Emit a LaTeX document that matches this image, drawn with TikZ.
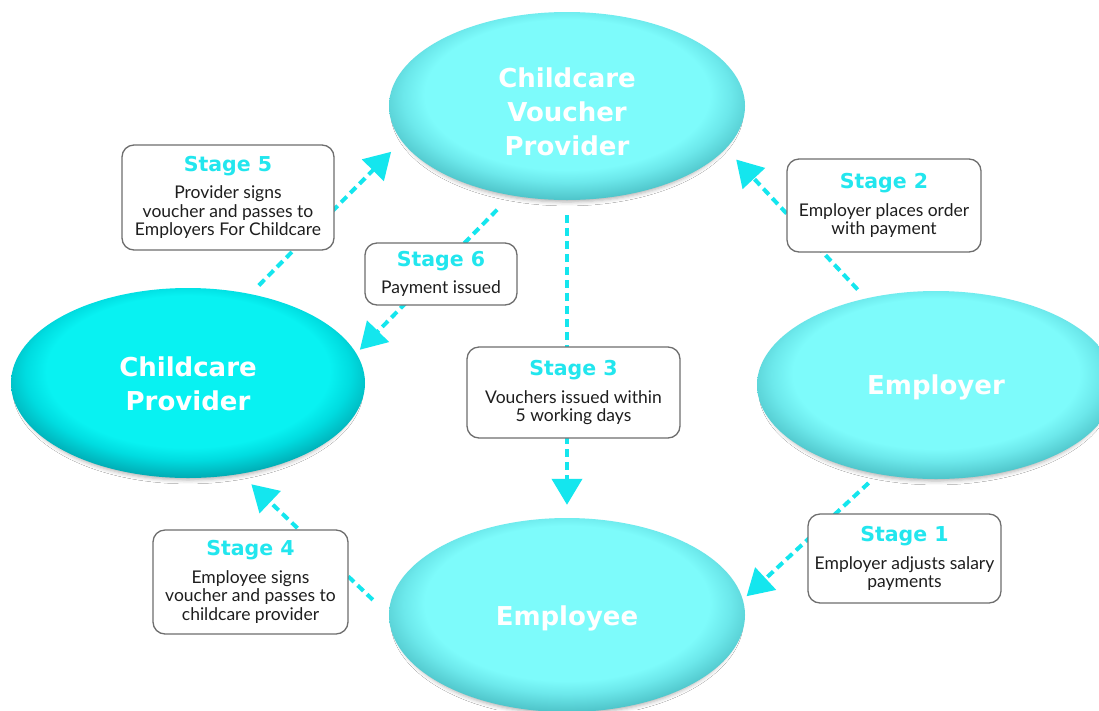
\documentclass[tikz,border=0pt]{standalone}
\usepackage{fontspec}
\setmainfont{Lato}
\newfontfamily\headfont{DejaVu Sans}
\usetikzlibrary{shapes.geometric,arrows.meta,shadows.blur}
\definecolor{arrowc}{HTML}{14E6EE}
\definecolor{titlec}{HTML}{22E6EE}
\definecolor{bodyc}{HTML}{1E1E1E}
\definecolor{boxc}{HTML}{6E6E6E}
\definecolor{baseL}{HTML}{7DFBFB}
\definecolor{midL}{HTML}{6CE8EB}
\definecolor{rimL}{HTML}{50C6CB}
\definecolor{baseB}{HTML}{08F2F2}
\definecolor{midB}{HTML}{00DCE0}
\definecolor{rimB}{HTML}{00AEB6}
\pgfdeclareradialshading{bubL}{\pgfpoint{0bp}{5bp}}{color(0bp)=(baseL); color(20bp)=(baseL); color(23bp)=(midL); color(27bp)=(rimL); color(50bp)=(rimL)}
\pgfdeclareradialshading{bubB}{\pgfpoint{0bp}{5bp}}{color(0bp)=(baseB); color(20bp)=(baseB); color(23bp)=(midB); color(27bp)=(rimB); color(50bp)=(rimB)}
\newcommand\stg[1]{{\headfont\fontsize{20.5}{24}\selectfont\bfseries\color{titlec}#1}}
\begin{document}
\begin{tikzpicture}[x=1pt,y=-1pt,
  flow/.style={draw=arrowc, line width=4pt, dash pattern=on 8pt off 5pt, -{Triangle[length=26pt,width=30pt]}},
  bub/.style={ellipse, inner sep=0pt, draw=none, shade,
    blur shadow={shadow xshift=0pt, shadow yshift=-5pt, shadow scale=0.97, shadow blur radius=4pt, shadow opacity=30}},
  bubL/.style={bub, shading=bubL},
  bubB/.style={bub, shading=bubB},
  btext/.style={text=white, align=center, inner sep=0pt, font=\headfont\fontsize{26}{34}\selectfont\bfseries},
  stagebox/.style={rectangle, rounded corners=12pt, draw=boxc, line width=1.3pt, fill=white,
    align=center, inner sep=0pt, font=\fontsize{17.5}{18.5}\selectfont, text=bodyc},
]
\useasboundingbox (0,0) rectangle (1099,710);
\fill[white] (0,0) rectangle (1099,710);

% ellipses
\node[bubL, minimum width=356pt, minimum height=188pt] (vp) at (567,106) {};
\node[bubB, minimum width=354pt, minimum height=190pt] (cp) at (188,383) {};
\node[bubL, minimum width=358pt, minimum height=188pt] (em) at (936,385) {};
\node[bubL, minimum width=356pt, minimum height=194pt] (ee) at (567,615) {};

\node[btext] (vpt) at (567,112) {Childcare\\Voucher\\Provider};
\node[btext] (cpt) at (188,384) {Childcare\\Provider};
\node[btext] (emt) at (936,387) {Employer};
\node[btext] (eet) at (567,618) {Employee};

% connectors
\draw[flow, shorten <=12pt, shorten >=15pt] (cp.55) -- (vp.192);
\draw[flow, shorten <=20pt, shorten >=5pt] (vp.238) -- (cp.10);
\draw[flow, shorten <=12pt, shorten >=15pt] (em.129) -- (vp.-15);
\draw[flow, shorten <=15pt, shorten >=13pt] (vp.south) -- (ee.north);
\draw[flow, shorten <=22pt, shorten >=15pt] (ee.west) -- (cp.-60);
\draw[flow, shorten <=13pt, shorten >=5pt] (em.237) -- (ee.5);

% stage boxes
\node[stagebox, minimum width=212pt, minimum height=105pt] (s5) at (228,197.5)
  {\stg{Stage 5}\\[9pt]Provider signs\\voucher and passes to\\Employers For Childcare};
\node[stagebox, minimum width=152pt, minimum height=62pt] (s6) at (441,274)
  {\stg{Stage 6}\\[9pt]Payment issued};
\node[stagebox, minimum width=194pt, minimum height=93pt] (s2) at (884,205.5)
  {\stg{Stage 2}\\[9pt]Employer places order\\with payment};
\node[stagebox, minimum width=213pt, minimum height=91pt] (s3) at (573.5,392.5)
  {\stg{Stage 3}\\[9pt]Vouchers issued within\\5 working days};
\node[stagebox, minimum width=195pt, minimum height=104pt] (s4) at (250.5,582)
  {\stg{Stage 4}\\[9pt]Employee signs\\voucher and passes to\\childcare provider};
\node[stagebox, minimum width=193pt, minimum height=89pt] (s1) at (904.5,558.5)
  {\stg{Stage 1}\\[9pt]Employer adjusts salary\\payments};
\end{tikzpicture}
\end{document}
